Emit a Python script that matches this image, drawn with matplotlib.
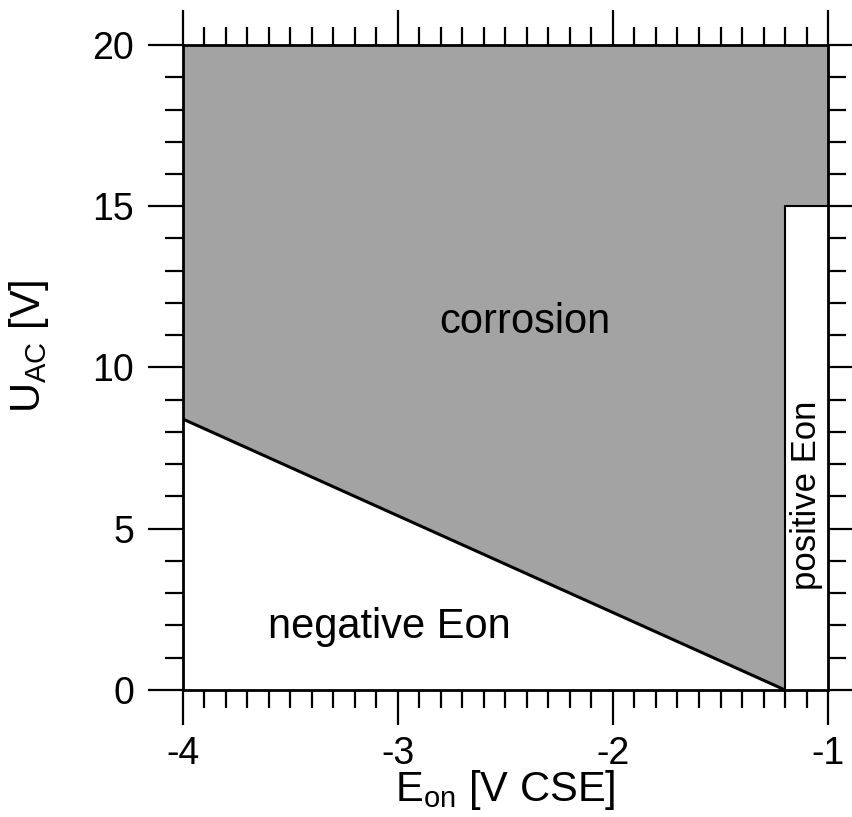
import matplotlib
matplotlib.use('Agg')
import matplotlib.pyplot as plt
from matplotlib.ticker import MultipleLocator

plt.rcParams['font.family'] = ['Liberation Sans', 'DejaVu Sans']
plt.rcParams['mathtext.fontset'] = 'custom'
plt.rcParams['mathtext.rm'] = 'Liberation Sans'
plt.rcParams['mathtext.it'] = 'Liberation Sans'
plt.rcParams['axes.unicode_minus'] = False

# Axis ranges
x_range = [-4.0, -1.0]
y_range = [0.0, 20.0]

# Boundary between corrosion and the negative Eon zone
boundary_x = [-4.0, -1.2]
boundary_y = [8.4, 0.0]

# Positive Eon strip
pos_x = [-1.2, -1.0]
pos_top = 15.0

gray = '#a3a3a3'

fig = plt.figure(figsize=(8.53, 8.17), dpi=100)
ax = fig.add_axes([0.2145, 0.1555, 0.7562, 0.7894])

# corrosion area: everything above the boundary line, minus the positive strip
poly_x = [boundary_x[0], boundary_x[1], pos_x[0], pos_x[1], x_range[1], x_range[0]]
poly_y = [boundary_y[0], boundary_y[1], pos_top, pos_top, y_range[1], y_range[1]]
ax.fill(poly_x, poly_y, color=gray, lw=0, zorder=1)

ax.plot(boundary_x, boundary_y, color='black', lw=2.2, solid_capstyle='butt', zorder=2)
ax.plot([pos_x[0], pos_x[0], pos_x[1]], [y_range[0], pos_top, pos_top],
        color='black', lw=1.5, zorder=2)

ax.text(-2.41, 11.4, 'corrosion', fontsize=30, ha='center', va='center')
ax.text(-3.04, 1.95, 'negative Eon', fontsize=30, ha='center', va='center')
ax.text(-1.1, 6.05, 'positive Eon', fontsize=25, ha='center', va='center', rotation=90)

ax.set_xlim(x_range)
ax.set_ylim(y_range)

ax.xaxis.set_major_locator(MultipleLocator(1))
ax.xaxis.set_minor_locator(MultipleLocator(0.1))
ax.yaxis.set_major_locator(MultipleLocator(5))
ax.yaxis.set_minor_locator(MultipleLocator(1))

ax.tick_params(which='both', direction='out', top=True, right=True, width=1.6)
ax.tick_params(which='major', length=25, labelsize=27)
ax.tick_params(which='minor', length=13)
ax.tick_params(axis='x', which='major', pad=8)
ax.tick_params(axis='y', which='major', pad=10)

for sp in ax.spines.values():
    sp.set_linewidth(2)

ax.set_xlabel(r'E$_{\mathrm{on}}$ [V CSE]', fontsize=30, labelpad=-3)
ax.set_ylabel(r'U$_{\mathrm{AC}}$ [V]', fontsize=30)
ax.yaxis.set_label_coords(-0.205, 0.533)

fig.savefig('out.png', dpi=100)
